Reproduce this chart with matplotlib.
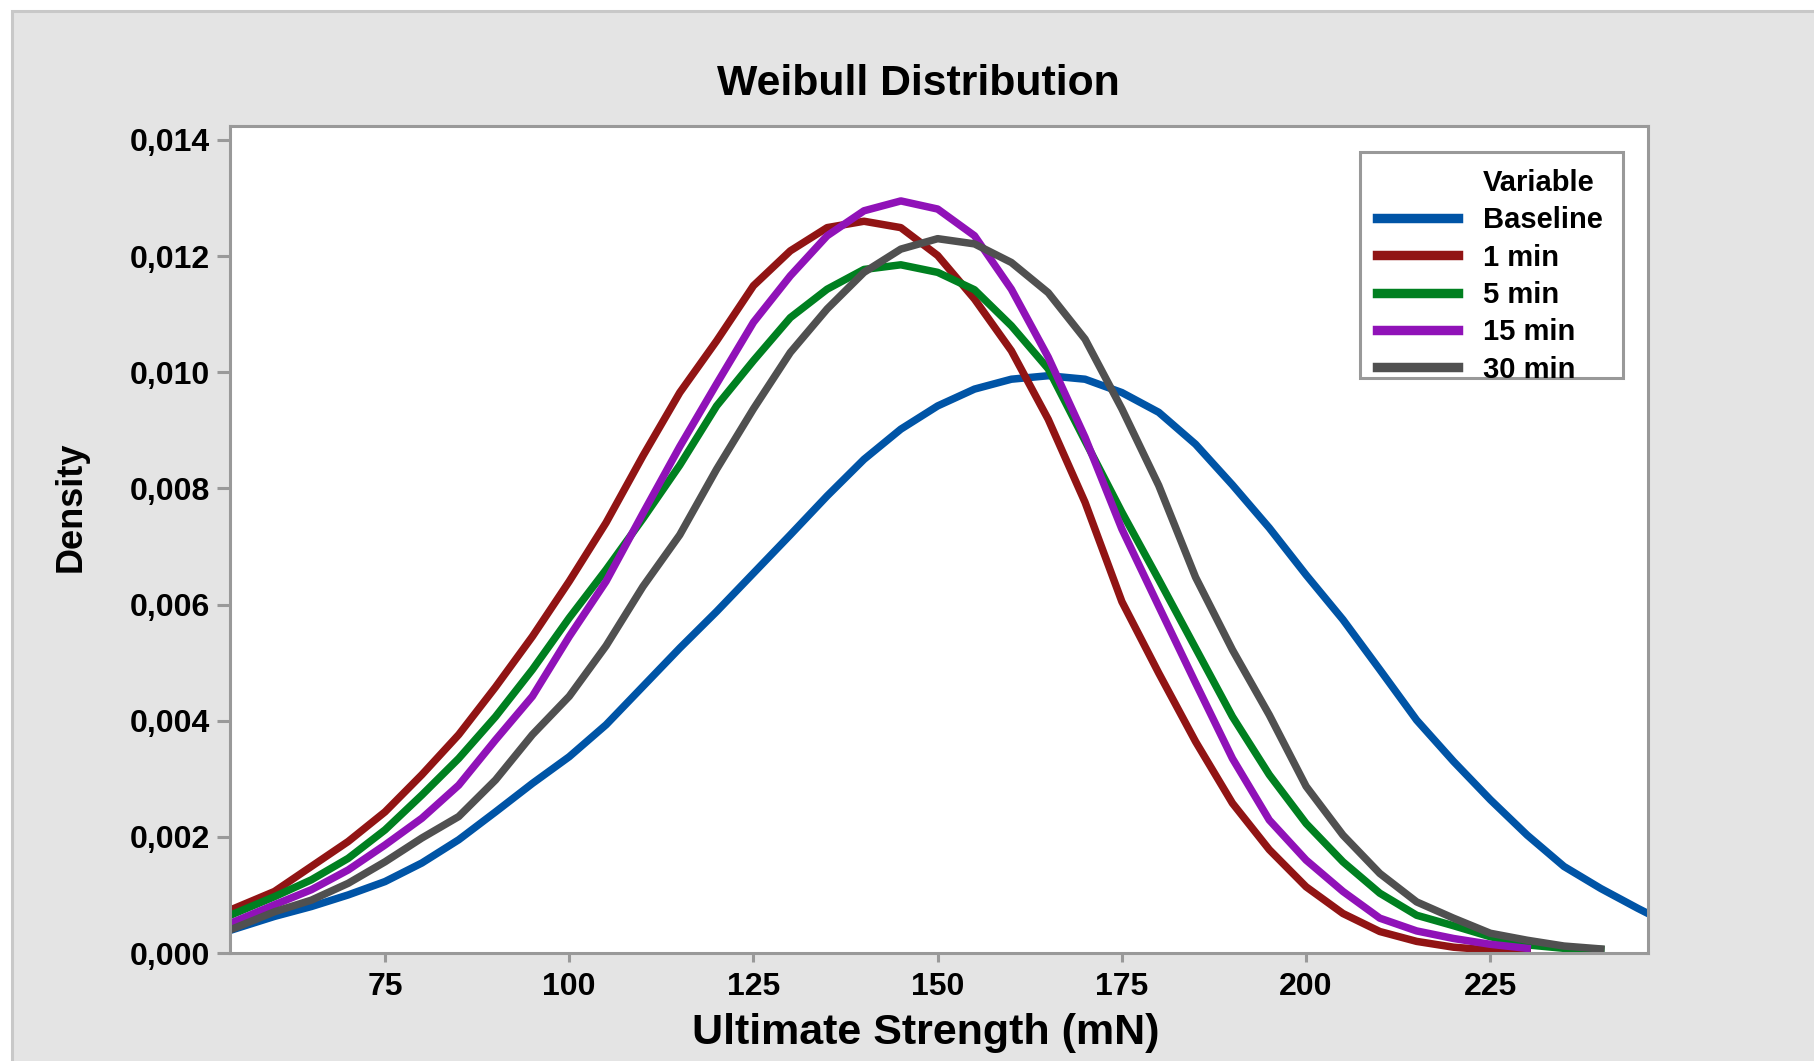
import numpy as np
import matplotlib
matplotlib.use('Agg')
import matplotlib.pyplot as plt
from matplotlib.patches import Rectangle
from matplotlib.lines import Line2D
from matplotlib.ticker import FuncFormatter

plt.rcParams['font.family'] = ['Liberation Sans', 'DejaVu Sans']
plt.rcParams['font.weight'] = 'bold'

nan = np.nan

strength = [54, 60, 65, 70, 75, 80, 85, 90, 95, 100, 105, 110, 115, 120, 125, 130,
            135, 140, 145, 150, 155, 160, 165, 170, 175, 180, 185, 190, 195, 200,
            205, 210, 215, 220, 225, 230, 235, 240, 245, 246.4]

baseline = [0.00039, 0.00063, 0.00080, 0.00100, 0.00123, 0.00155, 0.00195, 0.00243,
            0.00292, 0.00338, 0.00393, 0.00459, 0.00525, 0.00588, 0.00654, 0.00720,
            0.00787, 0.00850, 0.00902, 0.00942, 0.00971, 0.00988, 0.00994, 0.00988,
            0.00965, 0.00931, 0.00876, 0.00806, 0.00732, 0.00651, 0.00574, 0.00488,
            0.00401, 0.00330, 0.00264, 0.00203, 0.00149, 0.00111, 0.00077, 0.00068]

min_1 = [0.00074, 0.00106, 0.00149, 0.00192, 0.00243, 0.00307, 0.00376, 0.00458,
         0.00545, 0.00640, 0.00741, 0.00856, 0.00965, 0.01054, 0.01149, 0.01209,
         0.01249, 0.01260, 0.01249, 0.01201, 0.01126, 0.01037, 0.00919, 0.00776,
         0.00605, 0.00482, 0.00364, 0.00258, 0.00178, 0.00114, 0.00068, 0.00037,
         0.00020, 0.00010, 0.00005, 0.00002, nan, nan, nan, nan]

min_5 = [0.00065, 0.00097, 0.00126, 0.00163, 0.00212, 0.00272, 0.00335, 0.00407,
         0.00488, 0.00577, 0.00660, 0.00748, 0.00840, 0.00942, 0.01020, 0.01094,
         0.01143, 0.01177, 0.01185, 0.01172, 0.01142, 0.01080, 0.01006, 0.00882,
         0.00759, 0.00643, 0.00525, 0.00407, 0.00307, 0.00223, 0.00157, 0.00103,
         0.00065, 0.00047, 0.00028, 0.00014, 0.00008, 0.00006, nan, nan]

min_15 = [0.00051, 0.00083, 0.00109, 0.00143, 0.00186, 0.00232, 0.00289, 0.00367,
          0.00442, 0.00545, 0.00640, 0.00757, 0.00872, 0.00980, 0.01086, 0.01166,
          0.01235, 0.01278, 0.01295, 0.01281, 0.01235, 0.01143, 0.01026, 0.00888,
          0.00730, 0.00597, 0.00465, 0.00335, 0.00229, 0.00160, 0.00106, 0.00060,
          0.00038, 0.00025, 0.00015, 0.00008, nan, nan, nan, nan]

min_30 = [0.00040, 0.00071, 0.00091, 0.00120, 0.00157, 0.00198, 0.00235, 0.00298,
          0.00376, 0.00442, 0.00529, 0.00631, 0.00720, 0.00833, 0.00937, 0.01034,
          0.01109, 0.01172, 0.01212, 0.01230, 0.01221, 0.01189, 0.01137, 0.01057,
          0.00937, 0.00805, 0.00647, 0.00522, 0.00410, 0.00287, 0.00203, 0.00137,
          0.00088, 0.00060, 0.00034, 0.00022, 0.00012, 0.00007, nan, nan]

labels = ['Baseline', '1 min', '5 min', '15 min', '30 min']
colors = ['#0054a6', '#911414', '#008020', '#9012b8', '#505050']
series = [baseline, min_1, min_5, min_15, min_30]

x_ticks = [75, 100, 125, 150, 175, 200, 225]
y_ticks = [0.000, 0.002, 0.004, 0.006, 0.008, 0.010, 0.012, 0.014]

W, H = 1814, 1061
fig = plt.figure(figsize=(W / 100, H / 100), dpi=100)
fig.patch.set_facecolor('white')

# grey panel behind everything
panel = Rectangle((12 / W, -0.2), 1.3, 1.2 - 11 / H, transform=fig.transFigure,
                  facecolor='#e4e4e4', edgecolor='#c8c8c8', linewidth=2.2, zorder=-10)
fig.add_artist(panel)

ax = fig.add_axes([230 / W, 1 - 953 / H, 1418 / W, 827 / H])
ax.set_facecolor('white')

for vals, lab, col in zip(series, labels, colors):
    ax.plot(strength, vals, color=col, linewidth=5.4, label=lab,
            solid_joinstyle='round')

ax.set_xlim(53.96, 246.4)
ax.set_ylim(0, 0.01424)
ax.set_xticks(x_ticks)
ax.set_yticks(y_ticks)
ax.yaxis.set_major_formatter(FuncFormatter(lambda v, p: f'{v:.3f}'.replace('.', ',')))

for sp in ax.spines.values():
    sp.set_color('#999999')
    sp.set_linewidth(2.2)
ax.tick_params(axis='y', length=9.5, width=2.2, color='#999999', pad=5, labelsize=23)
ax.tick_params(axis='x', length=6.5, width=2.2, color='#999999', pad=7.3, labelsize=23)
for t in ax.get_xticklabels() + ax.get_yticklabels():
    t.set_fontweight('bold')

fig.text(918 / W, 1 - 84 / H, 'Weibull Distribution', ha='center', va='center',
         fontsize=30.8, fontweight='bold')
fig.text(71 / W, 1 - 507 / H, 'Density', ha='center', va='center', rotation=90,
         fontsize=26, fontweight='bold')
fig.text(926 / W, 1 - 1033 / H, 'Ultimate Strength (mN)', ha='center', va='center',
         fontsize=31, fontweight='bold')

# legend box drawn separately so the padding matches the original
def ax_x(px):
    return (px - 230) / 1418

def ax_y(py):
    return (953 - py) / 827

box = Rectangle((ax_x(1360), ax_y(378)), ax_x(1623) - ax_x(1360), ax_y(152) - ax_y(378),
                transform=ax.transAxes, facecolor='white', edgecolor='#999999',
                linewidth=2.2, zorder=4.5)
ax.add_patch(box)

# legend with a "Variable" header row
handles = [Line2D([], [], color='none')] + \
          [Line2D([], [], color=c, linewidth=6.8) for c in colors]
leg = ax.legend(handles, ['Variable'] + labels, loc='upper left',
                bbox_to_anchor=(ax_x(1377), ax_y(169)),
                borderaxespad=0, handlelength=2.78, handletextpad=0.85,
                labelspacing=0.32, borderpad=0, frameon=False,
                prop={'weight': 'bold', 'size': 21})
leg.set_zorder(5)

fig.savefig('out.png', dpi=100)
